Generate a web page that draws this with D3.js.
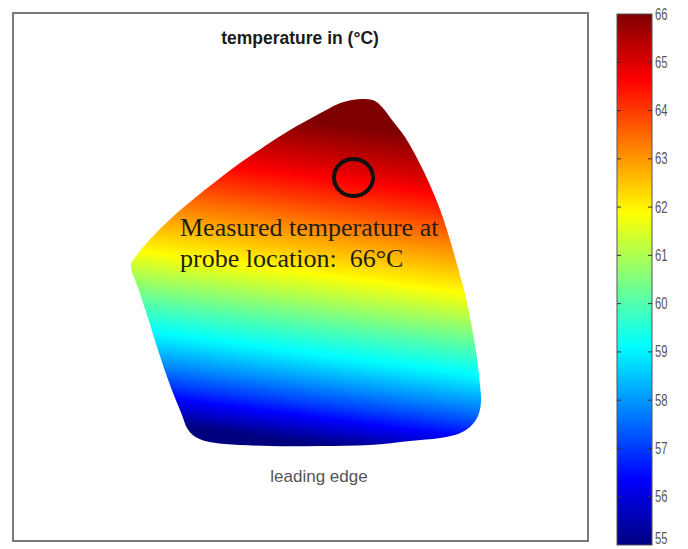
<!DOCTYPE html>
<html>
<head>
<meta charset="utf-8">
<script src="https://cdn.jsdelivr.net/npm/d3@7"></script>
<style>
  html, body { margin: 0; padding: 0; background: #ffffff; }
  svg { display: block; }
</style>
</head>
<body>
<svg id="chart" width="688" height="549"></svg>
<script>
// ---------------- DATA ----------------
// Colour-bar range and tick labels (°C)
const tempDomain = [55, 66];
const tickValues = [55, 56, 57, 58, 59, 60, 61, 62, 63, 64, 65, 66];

// Blade outline in plot units (plot area 575 x 528, origin top-left)
const bladeX = [325, 339, 352, 362, 369, 379, 392, 405, 417, 428, 437, 445, 453, 459, 464, 467, 468,
                465, 457, 445, 427, 397, 357, 307, 257, 212, 192, 181, 174,
                169, 157, 145, 134, 124, 119, 118, 121,
                132, 152, 177, 202, 227, 252, 277, 302, 317];
const bladeY = [91, 87, 86, 88, 94, 107, 124, 147, 172, 199, 227, 255, 285, 315, 345, 372, 389,
                403, 414, 421, 425, 428, 432, 433, 433, 431, 428, 423, 415,
                402, 372, 337, 302, 272, 259, 251, 246,
                232, 211, 189, 169, 150, 133, 117, 103, 95];

// Isotherm levels and their vertical position along the mid-chord line (plot units)
const isoLevels = [55, 56, 57, 58, 59, 60, 61, 62, 63, 64, 65, 66];
const isoY      = [429, 410, 390, 367, 342, 312, 284, 255, 219, 185, 149, 107];
const isoRefX = 287;        // mid-chord line position
const isoSlope = 0.13;      // isotherm tilt (dy/dx)

// Probe location (plot units) and annotation
const probe = { x: 340.5, y: 164.5, rx: 19.5, ry: 18.5 };
const titleText = "temperature in (°C)";
const noteLines = ["Measured temperature at", "probe location:  66°C"];
const bottomLabel = "leading edge";

// ---------------- LAYOUT ----------------
const svg = d3.select("#chart");
const plot = { left: 13, top: 13, right: 588, bottom: 541 };
const cbar = { left: 617, right: 652, top: 14, bottom: 545 };

const x = d3.scaleLinear().domain([0, 575]).range([plot.left, plot.right]);
const y = d3.scaleLinear().domain([0, 528]).range([plot.top, plot.bottom]);

// jet colormap
const jetStops = [0, 0.125, 0.375, 0.625, 0.875, 1];
const jetCols = ["#00007f", "#0000ff", "#00ffff", "#ffff00", "#ff0000", "#7f0000"];
const jetT = d3.scaleLinear().domain(tempDomain).range([0, 1]).clamp(true);
const jet = d3.scaleLinear().domain(jetStops).range(jetCols).interpolate(d3.interpolateRgb);
const color = t => jet(jetT(t));

const defs = svg.append("defs");

// ---------- field gradient (tilted) ----------
const posAtT = d3.scaleLinear().domain(isoLevels).range(isoY.map(v => y(v)));
const yStart = posAtT(tempDomain[0]);
const yEnd = posAtT(tempDomain[1]);
const n2 = 1 + isoSlope * isoSlope;
const Lp = yStart - yEnd;
const gx0 = x(isoRefX), gy0 = yStart;
const gx1 = gx0 + isoSlope * Lp / n2, gy1 = gy0 - Lp / n2;

const fieldGrad = defs.append("linearGradient")
  .attr("id", "fieldGrad")
  .attr("gradientUnits", "userSpaceOnUse")
  .attr("x1", gx0).attr("y1", gy0).attr("x2", gx1).attr("y2", gy1);
const fine = d3.range(tempDomain[0], tempDomain[1] + 0.001, 0.05);
fieldGrad.selectAll("stop").data(fine).join("stop")
  .attr("offset", t => (yStart - posAtT(t)) / Lp)
  .attr("stop-color", t => color(t));

// ---------- colorbar gradient ----------
const cbScale = d3.scaleLinear().domain(tempDomain).range([cbar.bottom, cbar.top]);
const cbGrad = defs.append("linearGradient")
  .attr("id", "cbGrad").attr("x1", 0).attr("y1", 1).attr("x2", 0).attr("y2", 0);
cbGrad.selectAll("stop").data(fine).join("stop")
  .attr("offset", t => jetT(t))
  .attr("stop-color", t => color(t));

// ---------- frame ----------
svg.append("rect")
  .attr("x", plot.left).attr("y", plot.top)
  .attr("width", plot.right - plot.left).attr("height", plot.bottom - plot.top)
  .attr("fill", "#ffffff").attr("stroke", "#7a7a7a").attr("stroke-width", 2);

// ---------- title ----------
svg.append("text")
  .attr("x", 300).attr("y", 44)
  .attr("text-anchor", "middle")
  .attr("font-family", "Liberation Sans, Arial, sans-serif")
  .attr("font-weight", "bold").attr("font-size", 17.5)
  .attr("fill", "#1a1a1a")
  .text(titleText);

// ---------- blade ----------
const pts = bladeX.map((v, i) => [x(v), y(bladeY[i])]);
const line = d3.line().curve(d3.curveCatmullRomClosed.alpha(0.5));
svg.append("path")
  .attr("d", line(pts))
  .attr("fill", "url(#fieldGrad)");

// ---------- probe circle ----------
svg.append("ellipse")
  .attr("cx", x(probe.x)).attr("cy", y(probe.y))
  .attr("rx", probe.rx).attr("ry", probe.ry)
  .attr("fill", "none").attr("stroke", "#111").attr("stroke-width", 4);

// ---------- annotation ----------
svg.append("g").selectAll("text").data(noteLines).join("text")
  .attr("x", 180).attr("y", (d, i) => 236 + i * 31)
  .attr("font-family", "Liberation Serif, Times New Roman, serif")
  .attr("font-size", 26)
  .attr("fill", "#1e1e14")
  .style("white-space", "pre")
  .text(d => d);

// ---------- leading edge ----------
svg.append("text")
  .attr("x", 319).attr("y", 482)
  .attr("text-anchor", "middle")
  .attr("font-family", "Liberation Sans, Arial, sans-serif")
  .attr("font-size", 17)
  .attr("fill", "#555")
  .text(bottomLabel);

// ---------- colorbar ----------
svg.append("rect")
  .attr("x", cbar.left).attr("y", cbar.top)
  .attr("width", cbar.right - cbar.left).attr("height", cbar.bottom - cbar.top)
  .attr("fill", "url(#cbGrad)").attr("stroke", "#555").attr("stroke-width", 1);

const tk = svg.append("g");
tk.selectAll("line.l").data(tickValues.slice(1, -1)).join("line")
  .attr("x1", cbar.left).attr("x2", cbar.left + 4)
  .attr("y1", d => cbScale(d)).attr("y2", d => cbScale(d))
  .attr("stroke", "#333").attr("stroke-width", 1);
tk.selectAll("line.r").data(tickValues.slice(1, -1)).join("line")
  .attr("x1", cbar.right).attr("x2", cbar.right - 4)
  .attr("y1", d => cbScale(d)).attr("y2", d => cbScale(d))
  .attr("stroke", "#333").attr("stroke-width", 1);

tk.selectAll("text").data(tickValues).join("text")
  .attr("transform", d => `translate(655,${Math.min(cbScale(d) + 5.5, 544)}) scale(0.68,1)`)
  .attr("font-family", "Liberation Sans, Arial, sans-serif")
  .attr("font-size", 16.5)
  .attr("fill", "#555")
  .text(d => d);
</script>
</body>
</html>
